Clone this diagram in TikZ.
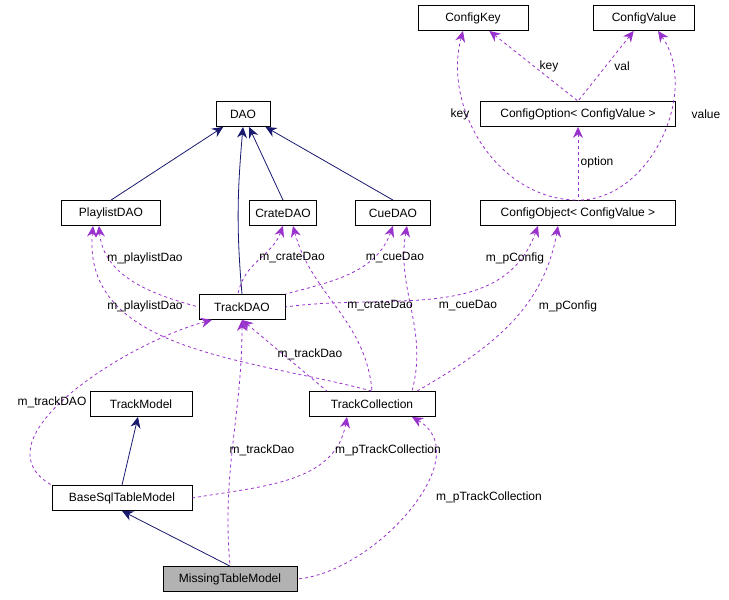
\documentclass[tikz,border=0pt]{standalone}
\usepackage{fontspec}
\setmainfont{Liberation Sans}
\usetikzlibrary{arrows.meta}
\definecolor{navy}{RGB}{25,25,112}
\definecolor{usecol}{RGB}{153,50,204}
\begin{document}
\begin{tikzpicture}[x=1pt, y=-1pt, font=\fontsize{12}{14}\selectfont,
	cls/.style={draw, thick, minimum height=25pt, inner sep=0pt, fill=white},
	inherit/.style={navy, thick, {Stealth[length=11pt,width=10pt]}-},
	uses/.style={usecol, thick, dashed, {Stealth[length=11pt,width=10pt]}-},
	lbl/.style={text=black, inner sep=1pt}]
\useasboundingbox (0,0) rectangle (729,600);

\node[cls, minimum width=110pt] (key) at (473,18) {ConfigKey};
\node[cls, minimum width=101pt] (val) at (644,18) {ConfigValue};
\node[cls, minimum width=54pt] (dao) at (243,114) {DAO};
\node[cls, minimum width=195pt] (option) at (578,114) {ConfigOption< ConfigValue >};
\node[cls, minimum width=99pt] (playlist) at (111,213) {PlaylistDAO};
\node[cls, minimum width=67pt] (crate) at (283,213) {CrateDAO};
\node[cls, minimum width=75pt] (cue) at (393,213) {CueDAO};
\node[cls, minimum width=195pt] (object) at (578,213) {ConfigObject< ConfigValue >};
\node[cls, minimum width=86pt] (track) at (242,307) {TrackDAO};
\node[cls, minimum width=102pt] (model) at (141,404) {TrackModel};
\node[cls, minimum width=126pt] (coll) at (372,404) {TrackCollection};
\node[cls, minimum width=140pt] (base) at (122,498) {BaseSqlTableModel};
\node[cls, minimum width=134pt, fill=black!30] (missing) at (230,579) {MissingTableModel};

% inheritance
\draw[inherit] (dao) -- (playlist.north);
\draw[inherit] (dao) -- (crate.north);
\draw[inherit] (dao) -- (cue.north);
\draw[inherit] (dao.south) to[out=-95,in=95] (track.north);
\draw[inherit] (model) -- (base.north);
\draw[inherit] (base.south) -- (missing.north);

% usage
\draw[uses] (key) -- (option.north);
\draw[uses] (val) -- (option.north);
\draw[uses] ([xshift=-10pt]key.south) to[out=-105,in=180] (object.north);
\draw[uses] ([xshift=14pt]val.south) to[out=-55,in=0] (object.north);
\draw[uses] (option) -- (object);
\draw[uses] ([xshift=-12pt]playlist.south) to[out=-85,in=165] (track.west);
\draw[uses] (crate.south) to[out=-110,in=80] ([xshift=-4pt]track.north);
\draw[uses] (cue.south) to[out=-110,in=15] (track.north east);
\draw[uses] ([xshift=-40pt]object.south) to[out=-110,in=8] (track.east);
\draw[uses] ([xshift=-18pt]playlist.south) to[out=-95,in=165] (coll.north);
\draw[uses] ([xshift=10pt]crate.south) to[out=-75,in=95] (coll.north);
\draw[uses] ([xshift=14pt]cue.south) to[out=-100,in=75] ([xshift=40pt]coll.north);
\draw[uses] ([xshift=-20pt]object.south) to[out=-100,in=30] ([xshift=45pt]coll.north);
\draw[uses] (track.south) -- ([xshift=-45pt]coll.north);
\draw[uses] ([xshift=-30pt]track.south) to[out=-165,in=150] (base.north west);
\draw[uses] ([xshift=-25pt]coll.south) to[out=-100,in=10] (base.east);
\draw[uses] (track.south) to[out=-90,in=95] (missing.north);
\draw[uses] ([xshift=40pt]coll.south) to[out=-30,in=5] (missing.east);

% labels
\node[lbl] (l key1) at (549,66) {key};
\node[lbl] (l val) at (622,66) {val};
\node[lbl] (l key2) at (460,114) {key};
\node[lbl] (l value) at (706,114) {value};
\node[lbl] (l option) at (597,162) {option};
\node[lbl] (l pl1) at (145,258) {m\_playlistDao};
\node[lbl] (l cr1) at (292,258) {m\_crateDao};
\node[lbl] (l cu1) at (395,258) {m\_cueDao};
\node[lbl] (l cf1) at (515,258) {m\_pConfig};
\node[lbl] (l pl2) at (145,306) {m\_playlistDao};
\node[lbl] (l cr2) at (380,306) {m\_crateDao};
\node[lbl] (l cu2) at (468,306) {m\_cueDao};
\node[lbl] (l cf2) at (568,306) {m\_pConfig};
\node[lbl] (l tr1) at (310,354) {m\_trackDao};
\node[lbl] (l tr2) at (52,402) {m\_trackDAO};
\node[lbl] (l tr3) at (262,450) {m\_trackDao};
\node[lbl] (l tc1) at (388,450) {m\_pTrackCollection};
\node[lbl] (l tc2) at (489,497) {m\_pTrackCollection};
\end{tikzpicture}
\end{document}
